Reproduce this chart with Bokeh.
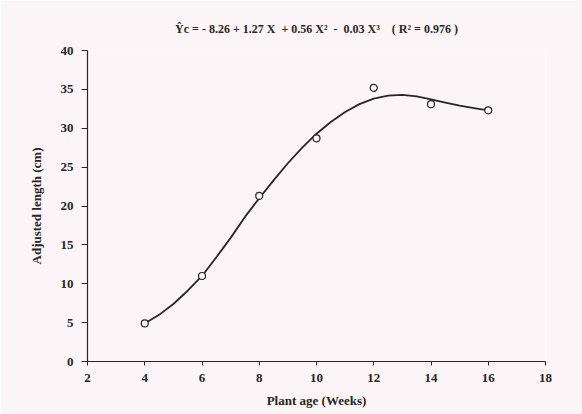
from bokeh.plotting import figure
from bokeh.models import Range1d, FixedTicker, Title
from bokeh.embed import file_html
from bokeh.resources import INLINE

# Observed adjusted length by plant age
weeks = [4, 6, 8, 10, 12, 14, 16]
length_cm = [4.9, 11.0, 21.3, 28.7, 35.2, 33.1, 32.3]

# Fitted cubic response curve (traced)
fit_weeks = [4, 4.5, 5, 5.5, 6, 6.5, 7, 7.5, 8, 8.5, 9, 9.5, 10, 10.5, 11,
             11.5, 12, 12.5, 13, 13.5, 14, 14.5, 15, 15.5, 16]
fit_length = [4.9, 6.0, 7.4, 9.1, 11.0, 13.4, 15.9, 18.6, 21.0, 23.3, 25.5,
              27.5, 29.3, 30.8, 32.1, 33.1, 33.8, 34.2, 34.3, 34.1, 33.7,
              33.3, 32.9, 32.6, 32.3]

x_ticks = [2, 4, 6, 8, 10, 12, 14, 16, 18]
y_ticks = [0, 5, 10, 15, 20, 25, 30, 35, 40]

# non-breaking spaces keep the wide gaps between terms in SVG text
equation = ("Ŷc = - 8.26 + 1.27 X \u00a0+ 0.56 X² \u00a0- \u00a00.03 X³"
            " \u00a0\u00a0\u00a0( R² = 0.976 )")

bg = "#fcf5f7"
ink = "#262626"
serif = "Liberation Serif"

p = figure(width=582, height=414, output_backend="svg", toolbar_location=None,
           x_range=Range1d(2, 18), y_range=Range1d(0, 40),
           min_border_left=87, min_border_right=37,
           min_border_top=50, min_border_bottom=53)
p.title = None
p.add_layout(Title(text=equation, align="center", text_font=serif,
                   text_font_size="12px", text_font_style="bold",
                   text_color=ink, offset=0, standoff=30), "above")
p.background_fill_color = bg
p.border_fill_color = bg
p.outline_line_color = None
p.grid.grid_line_color = None

for ax in (p.xaxis[0], p.yaxis[0]):
    ax.axis_line_color = ink
    ax.axis_line_width = 1.2
    ax.major_tick_line_color = ink
    ax.major_tick_in = 0
    ax.minor_tick_line_color = None
    ax.major_label_text_font = serif
    ax.major_label_text_font_style = "bold"
    ax.major_label_text_font_size = "13px"
    ax.major_label_text_color = ink
    ax.axis_label_text_font = serif
    ax.axis_label_text_font_style = "bold"
    ax.axis_label_text_font_size = "13px"
    ax.axis_label_text_color = ink

p.xaxis.ticker = FixedTicker(ticks=x_ticks)
p.yaxis.ticker = FixedTicker(ticks=y_ticks)
p.xaxis.major_tick_out = 4
p.yaxis.major_tick_out = 6
p.xaxis.major_label_standoff = 8
p.yaxis.major_label_standoff = 8
p.xaxis.axis_label = "Plant age (Weeks)"
p.yaxis.axis_label = "Adjusted length (cm)"
p.xaxis.axis_label_standoff = 8
p.yaxis.axis_label_standoff = 14

p.line(fit_weeks, fit_length, line_color=ink, line_width=1.8)
p.scatter(weeks, length_cm, marker="circle", size=7, fill_color=bg,
          line_color=ink, line_width=1.2)

open("out.html", "w").write(file_html(p, INLINE))
